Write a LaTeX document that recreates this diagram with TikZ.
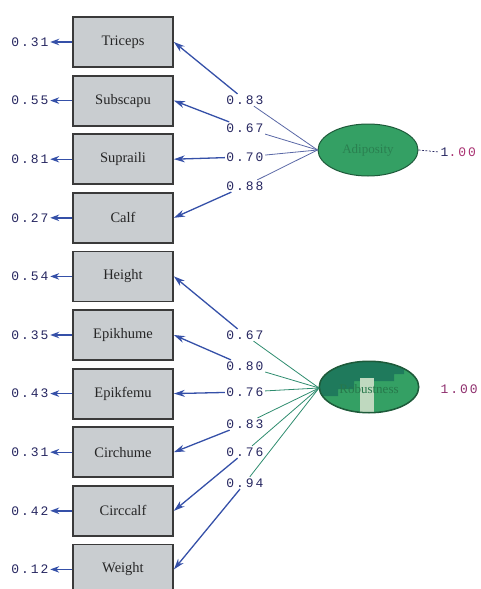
\documentclass[tikz,border=0pt]{standalone}
\usepackage{fontspec}
\setmainfont{Liberation Serif}
\newfontfamily\valfont[LetterSpace=15]{Liberation Mono}
\usetikzlibrary{arrows.meta,shapes.geometric}

\definecolor{boxfill}{HTML}{C9CDD0}
\definecolor{boxline}{HTML}{3A3A3A}
\definecolor{pathblue}{HTML}{3550A8}
\definecolor{slate}{HTML}{5A68A6}
\definecolor{teal}{HTML}{2E8C6E}
\definecolor{latfill}{HTML}{34A064}
\definecolor{latdark}{HTML}{1F7A5C}
\definecolor{latline}{HTML}{1E5A3A}
\definecolor{navy}{HTML}{262660}
\definecolor{rose}{HTML}{A83070}

\tikzset{
  obs/.style={rectangle, draw=boxline, line width=1.8pt, fill=boxfill,
    minimum width=100pt, minimum height=50pt, inner sep=0pt,
    font=\fontsize{14.5}{14.5}\selectfont, text=black!85},
  lat/.style={ellipse, draw=latline, line width=1pt, fill=latfill,
    minimum width=100pt, minimum height=52pt, inner sep=0pt,
    font=\fontsize{13}{13}\selectfont, text=latfill!80!black},
  val/.style={font=\valfont\fontsize{13}{13}\selectfont, text=navy, inner sep=1.5pt},
  load/.style={-{Stealth[length=11pt,width=7pt]}, draw=pathblue, line width=1.3pt},
  errarr/.style={-{Stealth[length=9pt,width=6.5pt]}, draw=pathblue, line width=1.4pt},
  feedA/.style={draw=slate, line width=0.8pt},
  feedB/.style={draw=teal, line width=0.8pt}
}

\begin{document}
\begin{tikzpicture}[x=1pt,y=-1pt]
\useasboundingbox (0,0) rectangle (480,589);

% observed indicators
\foreach \nm/\txt [count=\i from 0] in {
  tri/Triceps, sub/Subscapu, sup/Supraili, calf/Calf,
  hgt/Height, eph/Epikhume, epf/Epikfemu, cih/Circhume,
  cic/Circcalf, wgt/Weight}
  \node[obs] (\nm) at (123,{42+58.6*\i}) {\txt};

% values beside the indicators
\foreach \nm/\v [count=\i from 0] in {
  tri/0.31, sub/0.55, sup/0.81, calf/0.27,
  hgt/0.54, eph/0.35, epf/0.43, cih/0.31,
  cic/0.42, wgt/0.12}
{
  \node[val] (e\nm) at (30,{42+58.6*\i}) {\v};
  \draw[errarr] (\nm.west) -- (e\nm.east);
}

% latent factors
\node[lat] (F1) at (368,150) {Adiposity};

\node[lat] (F2) at (369,387) {};
\begin{scope}
  \clip (369,387) ellipse [x radius=49.5pt, y radius=25.5pt];
  \fill[latdark] (316,396) -- (338,396) -- (338,389) -- (354,389) -- (354,381)
    -- (394,381) -- (394,374) -- (404,374) -- (404,367) -- (422,367)
    -- (422,355) -- (316,355) -- cycle;
  \fill[green!25!gray!40] (360,378) rectangle (374,414);
\end{scope}
\draw[latline, line width=1pt] (369,387) ellipse [x radius=49.5pt, y radius=25.5pt];
\node[font=\fontsize{13}{13}\selectfont, text=latfill!75!black] at (369,389) {Robustness};

% loadings of the first factor
\node[val] (a1) at (245,100) {0.83};
\node[val] (a2) at (245,128) {0.67};
\node[val] (a3) at (245,157) {0.70};
\node[val] (a4) at (245,186) {0.88};
\foreach \l/\b in {a1/tri, a2/sub, a3/sup, a4/calf}
{
  \draw[feedA] (F1.west) -- (\l);
  \draw[load] (\l) -- (\b.east);
}

% loadings of the second factor
\node[val] (b1) at (245,335) {0.67};
\node[val] (b2) at (245,366) {0.80};
\node[val] (b3) at (245,392) {0.76};
\node[val] (b4) at (245,424) {0.83};
\node[val] (b5) at (245,452) {0.76};
\node[val] (b6) at (245,483) {0.94};
\coordinate (F2w) at (319,388);
\foreach \l/\b in {b1/hgt, b2/eph, b3/epf, b4/cih, b5/cic, b6/wgt}
{
  \draw[feedB] (F2w) -- (\l);
  \draw[load] (\l) -- (\b.east);
}

% factor variances
\node[val, anchor=west] (v1) at (439,152) {\textcolor{navy}{1}\textcolor{rose}{.00}};
\draw[navy, line width=0.7pt, dashed, dash pattern=on 2pt off 1.5pt] (F1.east) -- (v1.west);
\node[val, text=rose!80!navy, anchor=west] (v2) at (439,389) {1.00};
\end{tikzpicture}
\end{document}
